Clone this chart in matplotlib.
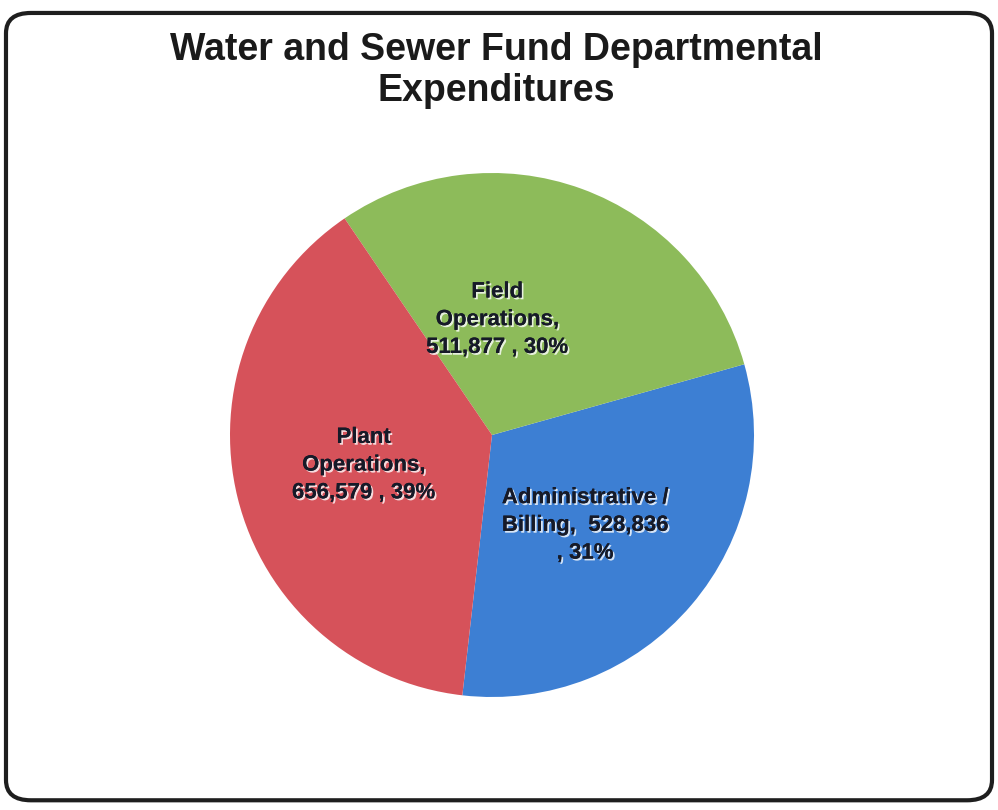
import matplotlib.pyplot as plt
import matplotlib.patheffects as pe
from matplotlib.patches import FancyBboxPatch

# Departmental expenditures (dollars)
departments = ['Administrative /\nBilling,', 'Field\nOperations,', 'Plant\nOperations,']
amounts = [528836, 511877, 656579]
colors = ['#3d7fd3', '#8dbb5a', '#d6525a']

# how each data label wraps: name, amount, share
label_fmt = [
    '{name}  {amt}\n, {pct}%',
    '{name}\n{amt} , {pct}%',
    '{name}\n{amt} , {pct}%',
]
# label centres as fractions of the pie radius
label_pos = [(0.355, -0.345), (0.02, 0.44), (-0.49, -0.115)]

fig = plt.figure(figsize=(9.98, 8.10), dpi=100)
fig.patch.set_facecolor('white')

# rounded chart frame
frame = FancyBboxPatch((0.006, 0.012), 0.988, 0.972,
                       boxstyle='round,pad=0,rounding_size=0.025',
                       transform=fig.transFigure, facecolor='none',
                       edgecolor='#1e1e1e', linewidth=3, zorder=5)
fig.patches.append(frame)

fig.text(0.497, 0.960, 'Water and Sewer Fund Departmental\nExpenditures',
         ha='center', va='top', fontsize=27, fontweight='bold',
         family='Liberation Sans', color='#1a1a1a', linespacing=1.18)

# pie centre ~ (492, 435) px, radius ~262 px
r_px = 262
cx, cy = 492, 435
W, H = 998, 810
ax = fig.add_axes([(cx - r_px) / W, (H - cy - r_px) / H, 2 * r_px / W, 2 * r_px / H])

total = sum(amounts)
ax.pie(amounts, colors=colors, startangle=-96.5, counterclock=True,
       radius=1.0, center=(0, 0), frame=False,
       wedgeprops=dict(edgecolor='none', linewidth=0))
ax.set_xlim(-1, 1)
ax.set_ylim(-1, 1)
ax.set_aspect('equal')
ax.axis('off')

shadow = [pe.withSimplePatchShadow(offset=(1.3, -1.3), shadow_rgbFace='white', alpha=0.8),
          pe.Normal()]
for fmt, name, val, (x, y) in zip(label_fmt, departments, amounts, label_pos):
    pct = round(val / total * 100)
    ax.text(x, y, fmt.format(name=name, amt=f'{val:,}', pct=pct), ha='center', va='center',
            fontsize=16, fontweight='bold', family='Liberation Sans',
            color='#161a28', linespacing=1.42, path_effects=shadow)

fig.savefig('out.png', dpi=100)
